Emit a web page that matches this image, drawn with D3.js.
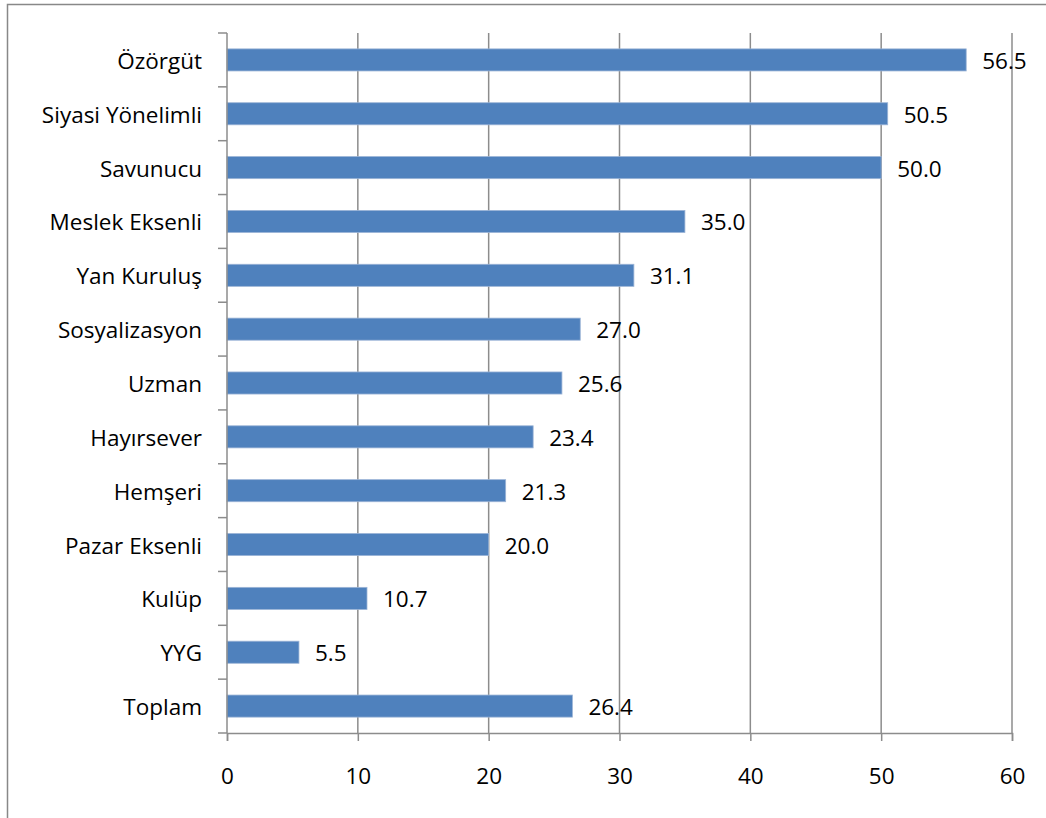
<!DOCTYPE html>
<html>
<head>
<meta charset="utf-8">
<script src="https://cdn.jsdelivr.net/npm/d3@7"></script>
<style>
  body { margin: 0; background: #fff; }
  svg text { font-family: "Open Sans", sans-serif; fill: #000; }
</style>
</head>
<body>
<div id="chart"></div>
<script>
var categories = ["Özörgüt", "Siyasi Yönelimli", "Savunucu", "Meslek Eksenli", "Yan Kuruluş",
  "Sosyalizasyon", "Uzman", "Hayırsever", "Hemşeri", "Pazar Eksenli", "Kulüp", "YYG", "Toplam"];
var values = [56.5, 50.5, 50.0, 35.0, 31.1, 27.0, 25.6, 23.4, 21.3, 20.0, 10.7, 5.5, 26.4];
var xTicks = [0, 10, 20, 30, 40, 50, 60];

var W = 1046, H = 818;
var MARGIN = {top: 33, right: 34, bottom: 85, left: 227};
var FONT = "22.5px";

var svg = d3.select("#chart").append("svg")
  .attr("width", W).attr("height", H);

// outer chart frame
svg.append("rect")
  .attr("x", 7.5).attr("y", 4.5)
  .attr("width", W + 10).attr("height", H + 10)
  .attr("fill", "none").attr("stroke", "#888").attr("stroke-width", 1.5);

var g = svg.append("g")
  .attr("transform", "translate(" + MARGIN.left + "," + MARGIN.top + ")");

var WIDTH = 785, HEIGHT = 700;

var x = d3.scaleLinear().domain([0, 60]).range([0, WIDTH]);
var y = d3.scaleBand().domain(categories).range([0, HEIGHT]).paddingInner(0.59).paddingOuter(0.295);
var yb = d3.scaleBand().domain(categories).range([0, HEIGHT]);

// gridlines
g.append("g").selectAll("line")
  .data(xTicks.slice(1))
  .enter().append("line")
  .attr("x1", d => x(d)).attr("x2", d => x(d))
  .attr("y1", 0).attr("y2", HEIGHT)
  .attr("stroke", "#8c8c8c").attr("stroke-width", 1.5);

// bars
g.append("g").selectAll("rect")
  .data(values)
  .enter().append("rect")
  .attr("x", x(0))
  .attr("y", (d, i) => y(categories[i]))
  .attr("width", d => x(d))
  .attr("height", y.bandwidth())
  .attr("fill", "#4f81bd")
  .attr("stroke", "#9bb4d6").attr("stroke-width", 0.8);

// value labels
g.append("g").selectAll("text")
  .data(values)
  .enter().append("text")
  .attr("x", d => x(d) + 16)
  .attr("y", (d, i) => y(categories[i]) + y.bandwidth() / 2)
  .attr("dy", "0.4em")
  .style("font-size", FONT)
  .text(d => d.toFixed(1));

// x axis
var xAxis = g.append("g")
  .attr("transform", "translate(0," + HEIGHT + ")")
  .call(d3.axisBottom(x).tickValues(xTicks).tickSize(8).tickPadding(27));
xAxis.select(".domain").attr("stroke", "#8c8c8c").attr("stroke-width", 1.5);
xAxis.selectAll(".tick line").attr("stroke", "#8c8c8c").attr("stroke-width", 1.5);
xAxis.selectAll("text").style("font-size", FONT);

// y axis (ticks on band boundaries)
var yAxis = g.append("g");
yAxis.append("line")
  .attr("x1", 0).attr("x2", 0).attr("y1", 0).attr("y2", HEIGHT)
  .attr("stroke", "#8c8c8c").attr("stroke-width", 1.5);
yAxis.selectAll(".bt")
  .data(categories.concat(["_end"]))
  .enter().append("line")
  .attr("class", "bt")
  .attr("x1", -9).attr("x2", 0)
  .attr("y1", (d, i) => i < categories.length ? yb(d) : HEIGHT)
  .attr("y2", (d, i) => i < categories.length ? yb(d) : HEIGHT)
  .attr("stroke", "#8c8c8c").attr("stroke-width", 1.5);
yAxis.selectAll("text")
  .data(categories)
  .enter().append("text")
  .attr("x", -25)
  .attr("y", d => yb(d) + yb.bandwidth() / 2)
  .attr("dy", "0.4em")
  .attr("text-anchor", "end")
  .style("font-size", FONT)
  .text(d => d);
</script>
</body>
</html>
